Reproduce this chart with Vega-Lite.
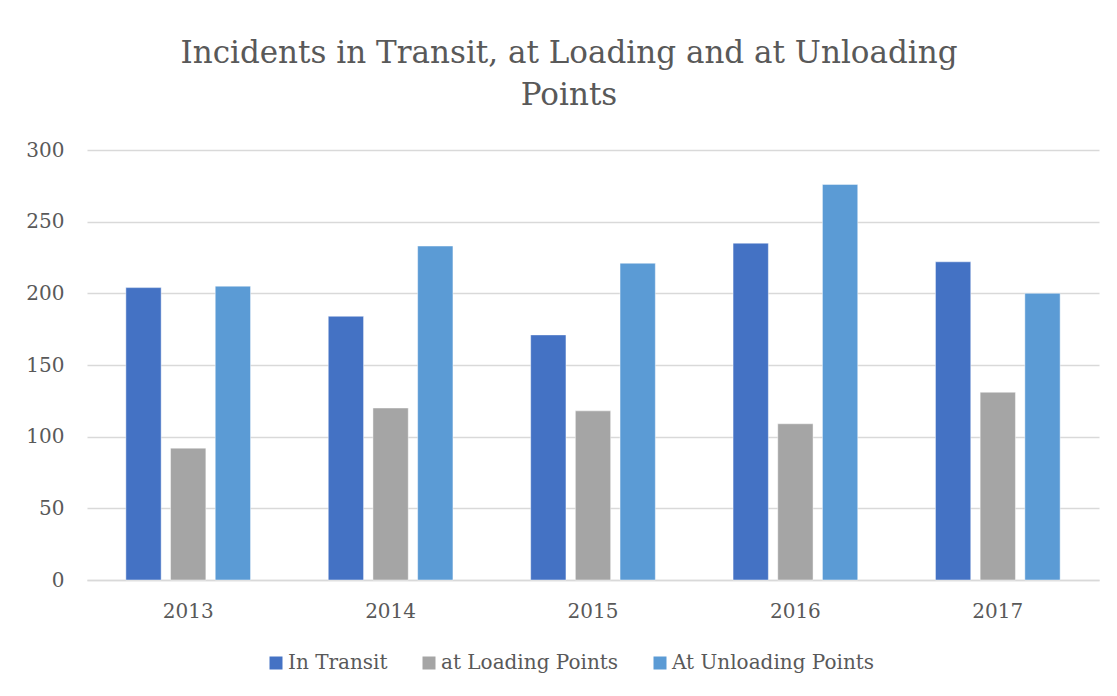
{
  "$schema": "https://vega.github.io/schema/vega-lite/v6.json",
  "autosize": "none",
  "width": 1012,
  "height": 430,
  "padding": {"left": 87, "top": 150, "right": 18, "bottom": 116},
  "background": "#ffffff",
  "title": {
    "text": ["Incidents in Transit, at Loading and at Unloading", "Points"],
    "font": "DejaVu Serif",
    "fontSize": 31,
    "fontWeight": "normal",
    "color": "#595959",
    "anchor": "middle",
    "dx": -24,
    "lineHeight": 42,
    "offset": 28
  },
  "data": {
    "values": [
      {"year": "2013", "series": "In Transit", "value": 204},
      {"year": "2013", "series": "at Loading Points", "value": 92},
      {"year": "2013", "series": "At Unloading Points", "value": 205},
      {"year": "2014", "series": "In Transit", "value": 184},
      {"year": "2014", "series": "at Loading Points", "value": 120},
      {"year": "2014", "series": "At Unloading Points", "value": 233},
      {"year": "2015", "series": "In Transit", "value": 171},
      {"year": "2015", "series": "at Loading Points", "value": 118},
      {"year": "2015", "series": "At Unloading Points", "value": 221},
      {"year": "2016", "series": "In Transit", "value": 235},
      {"year": "2016", "series": "at Loading Points", "value": 109},
      {"year": "2016", "series": "At Unloading Points", "value": 276},
      {"year": "2017", "series": "In Transit", "value": 222},
      {"year": "2017", "series": "at Loading Points", "value": 131},
      {"year": "2017", "series": "At Unloading Points", "value": 200}
    ]
  },
  "mark": {"type": "bar", "stroke": "#ffffff", "strokeOpacity": 0.45, "strokeWidth": 1},
  "encoding": {
    "x": {
      "field": "year",
      "type": "nominal",
      "scale": {"paddingInner": 0.384, "paddingOuter": 0.192},
      "axis": {
        "title": null,
        "labelAngle": 0,
        "labelFont": "DejaVu Serif",
        "labelFontSize": 20,
        "labelColor": "#595959",
        "labelPadding": 21,
        "ticks": false,
        "domainColor": "#d9d9d9",
        "domainWidth": 1.5
      }
    },
    "xOffset": {
      "field": "series",
      "type": "nominal",
      "scale": {"domain": ["In Transit", "at Loading Points", "At Unloading Points"], "paddingInner": 0.21, "paddingOuter": 0}
    },
    "y": {
      "field": "value",
      "type": "quantitative",
      "scale": {"domain": [0, 300], "nice": false},
      "axis": {
        "title": null,
        "values": [0, 50, 100, 150, 200, 250, 300],
        "labelFont": "DejaVu Serif",
        "labelFontSize": 20,
        "labelColor": "#595959",
        "labelPadding": 23,
        "ticks": false,
        "domain": false,
        "gridColor": "#d9d9d9",
        "gridWidth": 1.5
      }
    },
    "color": {
      "field": "series",
      "type": "nominal",
      "scale": {
        "domain": ["In Transit", "at Loading Points", "At Unloading Points"],
        "range": ["#4472C4", "#A5A5A5", "#5B9BD5"]
      },
      "legend": {
        "title": null,
        "orient": "none",
        "direction": "horizontal",
        "legendX": 179,
        "legendY": 503,
        "symbolType": "square",
        "symbolSize": 169,
        "symbolStrokeWidth": 0,
        "labelFont": "DejaVu Serif",
        "labelFontSize": 20,
        "labelColor": "#595959",
        "labelOffset": 2,
        "columnPadding": 31,
        "labelLimit": 400
      }
    }
  },
  "config": {"view": {"stroke": null}}
}
